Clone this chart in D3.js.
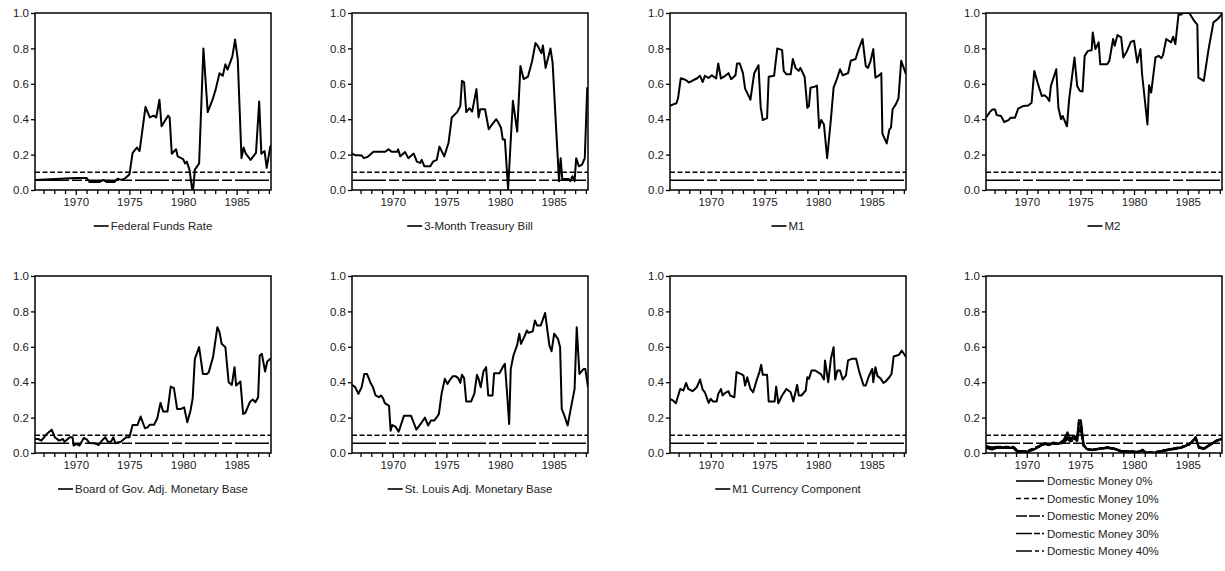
<!DOCTYPE html>
<html>
<head>
<meta charset="utf-8">
<script src="https://cdn.jsdelivr.net/npm/d3@7"></script>
<style>
  body { margin: 0; background: #fff; }
  svg { font-family: "Liberation Sans", Arial, sans-serif; }
  .tick text { font-size: 11.5px; fill: #222; }
  .leg { font-size: 11.5px; fill: #222; }
</style>
</head>
<body>
<svg id="chart" width="1225" height="571"></svg>
<script>
// quarterly p-values, [year, value]
const fedFunds = [[1966.2,0.057],[1970.0,0.068],[1971.0,0.068],[1971.3,0.045],[1972.2,0.045],[1972.55,0.057],[1972.9,0.045],[1973.6,0.045],[1973.9,0.064],[1974.25,0.057],[1974.55,0.064],[1975.0,0.087],[1975.3,0.21],[1975.7,0.24],[1975.95,0.22],[1976.5,0.47],[1976.9,0.41],[1977.25,0.42],[1977.5,0.41],[1977.8,0.51],[1978.0,0.36],[1978.6,0.42],[1978.75,0.41],[1978.95,0.205],[1979.35,0.23],[1979.5,0.19],[1980.0,0.175],[1980.2,0.15],[1980.35,0.16],[1980.6,0.115],[1980.85,0.005],[1980.95,0.005],[1981.1,0.115],[1981.5,0.15],[1981.9,0.80],[1982.3,0.44],[1982.75,0.51],[1983.05,0.57],[1983.4,0.66],[1983.7,0.645],[1983.95,0.71],[1984.15,0.68],[1984.6,0.755],[1984.85,0.85],[1985.1,0.74],[1985.45,0.18],[1985.65,0.24],[1985.85,0.205],[1986.3,0.17],[1986.8,0.21],[1987.1,0.50],[1987.3,0.205],[1987.6,0.22],[1987.8,0.125],[1988.15,0.25]];

const tBill = [[1966.2,0.205],[1966.5,0.197],[1966.8,0.197],[1967.1,0.195],[1967.3,0.18],[1967.65,0.187],[1968.2,0.216],[1969.3,0.216],[1969.6,0.23],[1969.9,0.216],[1970.4,0.216],[1970.5,0.23],[1970.7,0.19],[1971.15,0.214],[1971.45,0.18],[1971.95,0.206],[1972.25,0.16],[1972.55,0.153],[1972.7,0.17],[1972.95,0.134],[1973.5,0.134],[1973.75,0.16],[1974.1,0.17],[1974.35,0.245],[1974.8,0.19],[1975.2,0.267],[1975.5,0.41],[1976.0,0.44],[1976.3,0.475],[1976.45,0.617],[1976.65,0.608],[1976.85,0.44],[1977.15,0.462],[1977.4,0.443],[1977.8,0.57],[1978.0,0.41],[1978.15,0.456],[1978.6,0.456],[1978.95,0.343],[1979.25,0.37],[1979.65,0.40],[1979.85,0.38],[1980.1,0.35],[1980.25,0.286],[1980.45,0.286],[1980.75,0.005],[1981.2,0.504],[1981.6,0.33],[1981.9,0.70],[1982.2,0.627],[1982.6,0.64],[1983.0,0.73],[1983.3,0.83],[1983.5,0.816],[1983.85,0.773],[1984.0,0.816],[1984.25,0.69],[1984.7,0.80],[1984.9,0.72],[1985.25,0.324],[1985.5,0.05],[1985.65,0.18],[1985.8,0.062],[1986.4,0.062],[1986.55,0.05],[1986.75,0.078],[1986.95,0.05],[1987.1,0.18],[1987.35,0.134],[1987.65,0.144],[1987.9,0.18],[1988.13,0.58]];

const m1 = [[1966.2,0.475],[1966.5,0.484],[1966.8,0.49],[1966.95,0.518],[1967.2,0.631],[1967.5,0.626],[1967.8,0.616],[1967.95,0.607],[1968.35,0.62],[1968.7,0.63],[1969.0,0.645],[1969.25,0.61],[1969.45,0.645],[1969.8,0.633],[1970.1,0.648],[1970.5,0.63],[1970.7,0.715],[1970.95,0.63],[1971.35,0.645],[1971.65,0.66],[1971.9,0.626],[1972.3,0.648],[1972.45,0.715],[1972.7,0.715],[1973.0,0.66],[1973.2,0.573],[1973.55,0.53],[1973.7,0.51],[1974.05,0.66],[1974.45,0.705],[1974.65,0.47],[1974.85,0.395],[1975.25,0.406],[1975.4,0.64],[1975.9,0.645],[1976.2,0.80],[1976.65,0.79],[1976.8,0.673],[1977.05,0.654],[1977.45,0.654],[1977.65,0.74],[1977.9,0.69],[1978.2,0.673],[1978.35,0.69],[1978.75,0.64],[1979.0,0.465],[1979.15,0.474],[1979.3,0.578],[1979.7,0.584],[1979.9,0.59],[1980.1,0.35],[1980.3,0.395],[1980.55,0.37],[1980.85,0.18],[1981.2,0.40],[1981.45,0.578],[1981.75,0.626],[1982.05,0.682],[1982.3,0.648],[1982.8,0.66],[1983.05,0.73],[1983.5,0.74],[1983.75,0.79],[1984.15,0.853],[1984.45,0.70],[1984.65,0.69],[1984.9,0.73],[1985.15,0.796],[1985.35,0.635],[1985.7,0.648],[1985.9,0.66],[1986.0,0.318],[1986.4,0.263],[1986.65,0.342],[1986.8,0.352],[1986.95,0.456],[1987.25,0.484],[1987.5,0.518],[1987.75,0.73],[1988.2,0.654]];

const m2 = [[1966.2,0.408],[1966.55,0.44],[1966.8,0.455],[1967.05,0.455],[1967.2,0.423],[1967.6,0.418],[1967.9,0.384],[1968.3,0.395],[1968.5,0.408],[1968.9,0.408],[1969.2,0.46],[1969.7,0.475],[1970.15,0.478],[1970.45,0.493],[1970.7,0.673],[1971.1,0.588],[1971.4,0.531],[1971.65,0.535],[1971.9,0.522],[1972.1,0.503],[1972.25,0.588],[1972.75,0.682],[1972.95,0.465],[1973.2,0.40],[1973.35,0.418],[1973.75,0.36],[1973.95,0.512],[1974.45,0.749],[1974.7,0.588],[1974.95,0.56],[1975.2,0.556],[1975.4,0.758],[1975.7,0.786],[1976.05,0.79],[1976.15,0.89],[1976.4,0.796],[1976.7,0.834],[1976.85,0.71],[1977.5,0.71],[1977.7,0.73],[1978.05,0.853],[1978.2,0.815],[1978.45,0.875],[1978.8,0.862],[1979.0,0.749],[1979.35,0.786],[1979.7,0.837],[1980.0,0.843],[1980.3,0.72],[1980.6,0.796],[1980.75,0.654],[1981.25,0.37],[1981.4,0.592],[1981.6,0.55],[1982.0,0.749],[1982.3,0.758],[1982.55,0.745],[1982.7,0.762],[1983.0,0.853],[1983.45,0.834],[1983.65,0.866],[1983.85,0.824],[1984.15,0.994],[1984.35,0.99],[1984.6,1.0],[1985.15,1.0],[1985.6,0.956],[1985.9,0.934],[1986.0,0.635],[1986.5,0.616],[1986.95,0.796],[1987.4,0.947],[1987.8,0.966],[1988.2,0.994]];

const boardBase = [[1966.2,0.079],[1966.5,0.079],[1966.8,0.07],[1967.3,0.108],[1967.75,0.132],[1968.05,0.089],[1968.45,0.07],[1968.8,0.079],[1968.95,0.064],[1969.45,0.089],[1969.7,0.089],[1969.8,0.042],[1970.05,0.051],[1970.35,0.042],[1970.75,0.085],[1971.05,0.075],[1971.25,0.057],[1971.75,0.055],[1972.15,0.045],[1972.35,0.064],[1972.75,0.089],[1973.0,0.064],[1973.3,0.064],[1973.5,0.089],[1973.7,0.055],[1974.2,0.064],[1974.7,0.089],[1975.0,0.089],[1975.3,0.158],[1975.75,0.158],[1976.05,0.206],[1976.45,0.14],[1976.7,0.145],[1976.9,0.16],[1977.3,0.16],[1977.6,0.196],[1977.9,0.283],[1978.15,0.234],[1978.55,0.234],[1978.85,0.375],[1979.15,0.366],[1979.45,0.249],[1979.8,0.249],[1980.1,0.258],[1980.4,0.174],[1980.7,0.24],[1980.9,0.31],[1981.1,0.532],[1981.5,0.598],[1981.85,0.447],[1982.25,0.447],[1982.4,0.457],[1982.8,0.542],[1983.2,0.711],[1983.4,0.683],[1983.6,0.617],[1983.95,0.598],[1984.25,0.40],[1984.55,0.385],[1984.8,0.485],[1984.95,0.381],[1985.35,0.404],[1985.6,0.221],[1985.8,0.226],[1986.25,0.29],[1986.5,0.302],[1986.75,0.287],[1987.0,0.315],[1987.15,0.551],[1987.35,0.56],[1987.65,0.46],[1987.85,0.517],[1988.2,0.536]];

const stlBase = [[1966.2,0.385],[1966.5,0.372],[1966.8,0.334],[1967.1,0.372],[1967.35,0.447],[1967.6,0.447],[1967.9,0.40],[1968.15,0.372],[1968.4,0.325],[1968.7,0.315],[1968.9,0.325],[1969.1,0.309],[1969.25,0.283],[1969.5,0.272],[1969.65,0.268],[1969.8,0.126],[1969.95,0.158],[1970.25,0.149],[1970.55,0.12],[1971.05,0.211],[1971.7,0.211],[1972.2,0.132],[1972.6,0.164],[1973.0,0.20],[1973.3,0.155],[1973.55,0.183],[1973.85,0.183],[1974.15,0.206],[1974.3,0.221],[1974.55,0.334],[1974.85,0.419],[1975.1,0.39],[1975.35,0.415],[1975.6,0.434],[1975.85,0.434],[1976.1,0.423],[1976.3,0.396],[1976.45,0.442],[1976.65,0.423],[1976.85,0.291],[1977.3,0.291],[1977.6,0.334],[1977.85,0.442],[1978.0,0.419],[1978.2,0.372],[1978.45,0.46],[1978.7,0.485],[1978.9,0.325],[1979.3,0.325],[1979.45,0.451],[1979.95,0.451],[1980.25,0.485],[1980.45,0.504],[1980.65,0.343],[1980.85,0.164],[1981.0,0.475],[1981.25,0.551],[1981.6,0.611],[1981.8,0.674],[1981.95,0.617],[1982.25,0.655],[1982.5,0.692],[1982.65,0.679],[1983.05,0.687],[1983.25,0.749],[1983.45,0.721],[1983.8,0.721],[1984.2,0.791],[1984.6,0.608],[1984.8,0.575],[1985.05,0.674],[1985.4,0.645],[1985.6,0.598],[1985.75,0.249],[1986.0,0.211],[1986.3,0.155],[1986.65,0.268],[1986.95,0.362],[1987.15,0.711],[1987.4,0.447],[1987.8,0.475],[1987.95,0.475],[1988.2,0.372]];

const m1Currency = [[1966.2,0.306],[1966.5,0.296],[1966.75,0.281],[1967.15,0.362],[1967.45,0.353],[1967.7,0.396],[1967.9,0.362],[1968.3,0.349],[1968.7,0.372],[1969.0,0.415],[1969.25,0.358],[1969.45,0.343],[1969.8,0.283],[1970.0,0.306],[1970.2,0.291],[1970.55,0.291],[1970.7,0.334],[1970.95,0.362],[1971.1,0.325],[1971.35,0.34],[1971.65,0.349],[1971.8,0.325],[1972.2,0.315],[1972.4,0.457],[1972.8,0.447],[1973.05,0.438],[1973.2,0.381],[1973.4,0.428],[1973.7,0.362],[1973.95,0.343],[1974.3,0.415],[1974.55,0.46],[1974.7,0.498],[1974.85,0.442],[1975.25,0.442],[1975.4,0.291],[1975.95,0.291],[1976.1,0.375],[1976.3,0.281],[1976.65,0.325],[1977.05,0.362],[1977.45,0.343],[1977.7,0.291],[1978.05,0.385],[1978.2,0.325],[1978.45,0.325],[1978.85,0.353],[1979.0,0.428],[1979.15,0.419],[1979.4,0.466],[1979.75,0.466],[1980.1,0.451],[1980.25,0.447],[1980.55,0.415],[1980.65,0.523],[1980.95,0.40],[1981.2,0.532],[1981.45,0.598],[1981.6,0.415],[1981.8,0.466],[1982.05,0.466],[1982.3,0.415],[1982.6,0.438],[1982.8,0.523],[1983.15,0.532],[1983.55,0.532],[1983.85,0.457],[1984.25,0.381],[1984.45,0.381],[1984.7,0.428],[1985.05,0.475],[1985.15,0.40],[1985.35,0.485],[1985.55,0.434],[1985.8,0.423],[1986.1,0.396],[1986.3,0.404],[1986.65,0.428],[1986.85,0.447],[1987.05,0.545],[1987.35,0.551],[1987.55,0.555],[1987.8,0.579],[1988.2,0.542]];

const dm0 = [[1966.2,0.028],[1966.75,0.019],[1967.2,0.028],[1968.75,0.028],[1969.15,0.004],[1969.55,0.009],[1970.0,0.004],[1970.65,0.019],[1971.25,0.038],[1971.7,0.057],[1972.05,0.047],[1972.5,0.06],[1972.95,0.051],[1973.45,0.075],[1973.8,0.117],[1974.05,0.079],[1974.4,0.098],[1974.7,0.085],[1974.85,0.185],[1975.05,0.185],[1975.3,0.047],[1975.6,0.023],[1976.1,0.015],[1976.55,0.023],[1977.5,0.028],[1978.1,0.023],[1978.75,0.009],[1979.7,0.004],[1980.45,0.004],[1980.8,0.019],[1981.1,0.0],[1981.85,0.0],[1982.65,0.009],[1983.4,0.019],[1984.35,0.028],[1985.15,0.047],[1985.75,0.09],[1986.05,0.028],[1986.55,0.023],[1987.15,0.047],[1987.65,0.066],[1988.2,0.079]];
const dm10 = [[1966.2,0.031],[1966.75,0.022],[1967.2,0.03],[1968.75,0.03],[1969.15,0.006],[1970.0,0.006],[1970.65,0.02],[1971.25,0.04],[1971.7,0.055],[1972.05,0.046],[1972.5,0.058],[1972.95,0.05],[1973.45,0.07],[1973.8,0.106],[1974.05,0.075],[1974.4,0.092],[1974.7,0.08],[1974.85,0.17],[1975.05,0.17],[1975.3,0.045],[1975.6,0.022],[1976.1,0.016],[1977.5,0.03],[1978.1,0.024],[1978.75,0.01],[1980.45,0.005],[1980.8,0.018],[1981.1,0.001],[1981.85,0.001],[1983.4,0.02],[1984.35,0.03],[1985.15,0.048],[1985.75,0.088],[1986.05,0.03],[1986.55,0.025],[1987.15,0.048],[1987.65,0.067],[1988.2,0.08]];
const dm20 = [[1966.2,0.034],[1966.75,0.025],[1967.2,0.032],[1968.75,0.032],[1969.15,0.008],[1970.0,0.008],[1970.65,0.022],[1971.25,0.041],[1971.7,0.053],[1972.05,0.045],[1972.5,0.056],[1972.95,0.05],[1973.45,0.066],[1973.8,0.096],[1974.05,0.072],[1974.4,0.086],[1974.7,0.076],[1974.85,0.155],[1975.05,0.155],[1975.3,0.043],[1975.6,0.022],[1976.1,0.017],[1977.5,0.031],[1978.1,0.025],[1978.75,0.011],[1980.45,0.006],[1980.8,0.017],[1981.1,0.002],[1981.85,0.002],[1983.4,0.021],[1984.35,0.031],[1985.15,0.049],[1985.75,0.086],[1986.05,0.031],[1986.55,0.026],[1987.15,0.049],[1987.65,0.068],[1988.2,0.081]];
const dm30 = [[1966.2,0.037],[1966.75,0.028],[1967.2,0.034],[1968.75,0.034],[1969.15,0.01],[1970.0,0.01],[1970.65,0.024],[1971.25,0.042],[1971.7,0.052],[1972.05,0.045],[1972.5,0.054],[1972.95,0.05],[1973.45,0.062],[1973.8,0.088],[1974.05,0.068],[1974.4,0.08],[1974.7,0.072],[1974.85,0.14],[1975.05,0.14],[1975.3,0.041],[1975.6,0.022],[1976.1,0.018],[1977.5,0.032],[1978.1,0.026],[1978.75,0.012],[1980.45,0.007],[1980.8,0.016],[1981.1,0.003],[1981.85,0.003],[1983.4,0.022],[1984.35,0.032],[1985.15,0.05],[1985.75,0.084],[1986.05,0.032],[1986.55,0.027],[1987.15,0.05],[1987.65,0.069],[1988.2,0.082]];
const dm40 = [[1966.2,0.04],[1966.75,0.031],[1967.2,0.036],[1968.75,0.036],[1969.15,0.012],[1970.0,0.012],[1970.65,0.026],[1971.25,0.043],[1971.7,0.051],[1972.05,0.045],[1972.5,0.052],[1972.95,0.05],[1973.45,0.058],[1973.8,0.08],[1974.05,0.064],[1974.4,0.074],[1974.7,0.068],[1974.85,0.125],[1975.05,0.125],[1975.3,0.04],[1975.6,0.022],[1976.1,0.019],[1977.5,0.033],[1978.1,0.027],[1978.75,0.013],[1980.45,0.008],[1980.8,0.015],[1981.1,0.004],[1981.85,0.004],[1983.4,0.023],[1984.35,0.033],[1985.15,0.051],[1985.75,0.082],[1986.05,0.033],[1986.55,0.028],[1987.15,0.051],[1987.65,0.07],[1988.2,0.083]];

const yearTicks = d3.range(1967, 1989);
const valueTicks = [0, 0.2, 0.4, 0.6, 0.8, 1.0];
const critical = [0.10, 0.055];  // the two dashed reference levels

const panels = [
  {series: [{name: "Federal Funds Rate", data: fedFunds}]},
  {series: [{name: "3-Month Treasury Bill", data: tBill}]},
  {series: [{name: "M1", data: m1}]},
  {series: [{name: "M2", data: m2}]},
  {series: [{name: "Board of Gov. Adj. Monetary Base", data: boardBase}]},
  {series: [{name: "St. Louis Adj. Monetary Base", data: stlBase}]},
  {series: [{name: "M1 Currency Component", data: m1Currency}]},
  {series: [
    {name: "Domestic Money 0%", data: dm0, dash: null},
    {name: "Domestic Money 10%", data: dm10, dash: "5,3"},
    {name: "Domestic Money 20%", data: dm20, dash: "11,2"},
    {name: "Domestic Money 30%", data: dm30, dash: "16,2,6,2"},
    {name: "Domestic Money 40%", data: dm40, dash: "16,3,4,3"}
  ], stacked: true}
];

const colX = [35, 352, 670, 986];
const rowY = [13, 276];
const W = 236, H = 177;

const svg = d3.select("#chart");

const x = d3.scaleLinear().domain([1966.2, 1988.2]).range([0, W]);
const y = d3.scaleLinear().domain([0, 1]).range([H, 0]);

const line = d3.line().x(d => x(d[0])).y(d => y(d[1]));

panels.forEach(function(p, i) {
  const g = svg.append("g")
    .attr("transform", "translate(" + colX[i % 4] + "," + rowY[Math.floor(i / 4)] + ")");

  g.append("clipPath").attr("id", "clip" + i)
    .append("rect").attr("width", W).attr("height", H);

  // x axis, year ticks with labels every 5 years
  const xa = g.append("g").attr("transform", "translate(0," + H + ")")
    .call(d3.axisBottom(x).tickValues(yearTicks)
      .tickFormat(d => d % 5 === 0 ? d : "").tickSize(4).tickPadding(4));
  xa.select(".domain").remove();
  xa.selectAll(".tick line").attr("stroke", "#000").attr("stroke-width", 1.3)
    .attr("y2", d => d % 5 === 0 ? 5 : 4);

  const ya = g.append("g")
    .call(d3.axisLeft(y).tickValues(valueTicks).tickFormat(d3.format(".1f")).tickSize(4).tickPadding(2));
  ya.select(".domain").remove();
  ya.selectAll(".tick line").attr("stroke", "#000").attr("stroke-width", 1.3);

  const plot = g.append("g").attr("clip-path", "url(#clip" + i + ")");

  plot.append("line").attr("x1", 0).attr("x2", W)
    .attr("y1", y(critical[0])).attr("y2", y(critical[0]))
    .attr("stroke", "#000").attr("stroke-width", 1.6).attr("stroke-dasharray", "5,2.5");
  plot.append("line").attr("x1", 0).attr("x2", W)
    .attr("y1", y(critical[1])).attr("y2", y(critical[1]))
    .attr("stroke", "#000").attr("stroke-width", 1.6).attr("stroke-dasharray", "34,3,10,3");

  p.series.forEach(function(s) {
    plot.append("path").datum(s.data)
      .attr("d", line)
      .attr("fill", "none").attr("stroke", "#000").attr("stroke-width", 2)
      .attr("stroke-linejoin", "round")
      .attr("stroke-dasharray", s.dash || null);
  });

  g.append("rect").attr("width", W).attr("height", H)
    .attr("fill", "none").attr("stroke", "#000").attr("stroke-width", 1.5);

  // legend under the panel
  const leg = g.append("g").attr("class", "legend");
  if (!p.stacked) {
    const s = p.series[0];
    const t = leg.append("text").attr("class", "leg").attr("x", 17).attr("y", 0)
      .attr("dy", "0.35em").text(s.name);
    const tw = t.node().getComputedTextLength();
    leg.append("line").attr("x1", 0).attr("x2", 15).attr("y1", 0).attr("y2", 0)
      .attr("stroke", "#000").attr("stroke-width", 1.6);
    leg.attr("transform", "translate(" + (W / 2 - (17 + tw) / 2) + "," + (H + 36) + ")");
  } else {
    p.series.forEach(function(s, k) {
      const row = leg.append("g").attr("transform", "translate(0," + (k * 17.5) + ")");
      row.append("line").attr("x1", 0).attr("x2", 28).attr("y1", 0).attr("y2", 0)
        .attr("stroke", "#000").attr("stroke-width", 1.6)
        .attr("stroke-dasharray", s.dash || null);
      row.append("text").attr("class", "leg").attr("x", 31).attr("dy", "0.35em").text(s.name);
    });
    leg.attr("transform", "translate(" + (W / 2 - 88) + "," + (H + 28) + ")");
  }
});
</script>
</body>
</html>
